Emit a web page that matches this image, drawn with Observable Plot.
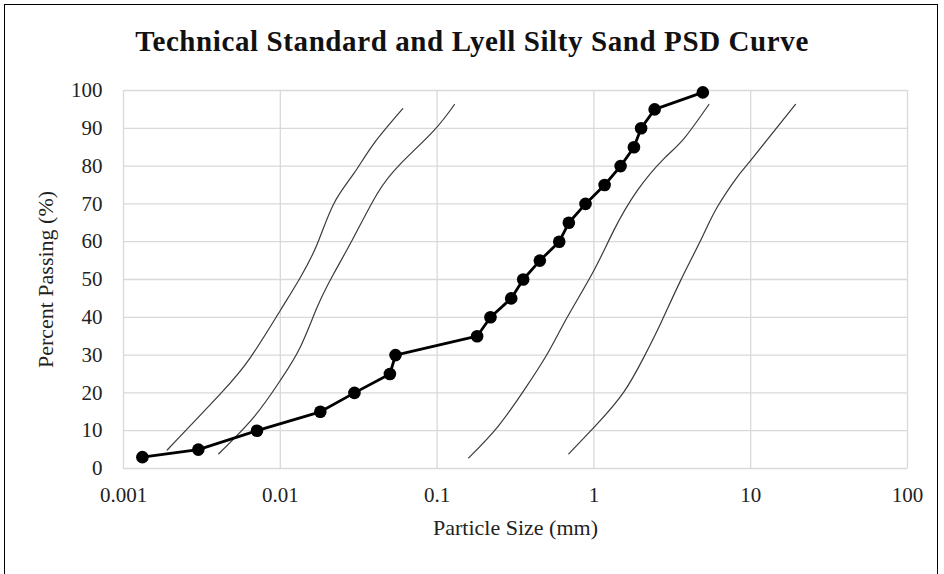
<!DOCTYPE html>
<html>
<head>
<meta charset="utf-8">
<script src="https://cdn.jsdelivr.net/npm/d3@7"></script>
<script src="https://cdn.jsdelivr.net/npm/@observablehq/plot@0.6"></script>
<style>
  html, body { margin: 0; padding: 0; background: #fff; }
  body { width: 944px; height: 574px; position: relative; overflow: hidden; font-family: "Liberation Serif", "Times New Roman", serif; }
  #frame { position: absolute; left: 4px; top: 4px; width: 934px; height: 580px; border: 1.5px solid #000; border-bottom: none; box-sizing: border-box; pointer-events: none; }
  #title { height: 76px; box-sizing: border-box; padding-top: 25px; text-align: center; font-weight: bold; font-size: 29px; color: #111; line-height: 32px; letter-spacing: 0.6px; }
  #chart svg { display: block; }
  #chart svg g[aria-label="x-axis label"] text, #chart svg g[aria-label="y-axis label"] text { font-size: 22px; }
</style>
</head>
<body>
<div id="frame"></div>
<div id="title">Technical Standard and Lyell Silty Sand PSD Curve</div>
<div id="chart"></div>
<script>
// Lyell silty sand measured PSD
const lyellSize    = [0.00132, 0.003, 0.0071, 0.018, 0.0297, 0.05, 0.0543, 0.18, 0.219, 0.297, 0.354, 0.452, 0.601, 0.692, 0.884, 1.17, 1.48, 1.80, 2.00, 2.44, 4.95];
const lyellPassing = [3, 5, 10, 15, 20, 25, 30, 35, 40, 45, 50, 55, 60, 65, 70, 75, 80, 85, 90, 95, 99.5];

// Technical standard envelope curves (thin lines)
const stdASize = [0.0019, 0.00416, 0.00646, 0.0100, 0.01345, 0.0172, 0.0219, 0.0294, 0.0394, 0.0604];
const stdAPass = [4.9, 19.8, 29.4, 41.8, 50.6, 59.4, 70.0, 78.0, 85.9, 95.2];

const stdBSize = [0.00405, 0.00678, 0.0100, 0.0134, 0.0172, 0.0219, 0.0294, 0.0415, 0.0584, 0.0953, 0.129];
const stdBPass = [3.9, 13.6, 23.3, 32.1, 42.7, 51.5, 61.2, 72.7, 80.6, 89.4, 96.3];

const stdCSize = [0.159, 0.242, 0.357, 0.504, 0.676, 1.00, 1.34, 1.89, 2.79, 3.74, 5.41];
const stdCPass = [2.8, 10.9, 20.6, 30.3, 40.0, 52.4, 63.0, 73.5, 81.9, 87.2, 96.3];

const stdDSize = [0.692, 1.05, 1.55, 2.08, 2.66, 3.57, 4.79, 6.11, 8.2, 10.0, 19.3];
const stdDPass = [3.9, 11.8, 20.2, 29.4, 38.3, 49.7, 60.3, 69.1, 77.1, 81.5, 96.3];

const xTicks = [0.001, 0.01, 0.1, 1, 10, 100];
const xTickLabels = ["0.001", "0.01", "0.1", "1", "10", "100"];
const yTicks = [0, 10, 20, 30, 40, 50, 60, 70, 80, 90, 100];

const toRows = (xs, ys, name) => xs.map((x, i) => ({size: x, pass: ys[i], series: name}));
const lyell = toRows(lyellSize, lyellPassing, "Lyell");
const stds = [
  toRows(stdASize, stdAPass, "A"),
  toRows(stdBSize, stdBPass, "B"),
  toRows(stdCSize, stdCPass, "C"),
  toRows(stdDSize, stdDPass, "D")
];

const chart = Plot.plot({
  width: 944,
  height: 498,
  marginTop: 14,
  marginBottom: 106,
  marginLeft: 123,
  marginRight: 37,
  style: { fontFamily: "'Liberation Serif', 'Times New Roman', serif", fontSize: "21px", color: "#222", background: "transparent" },
  x: { type: "log", domain: [0.001, 100] },
  y: { domain: [0, 100] },
  marks: [
    Plot.gridX(xTicks, { stroke: "#d9d9d9", strokeOpacity: 1, strokeWidth: 1.3 }),
    Plot.gridY(yTicks, { stroke: "#d9d9d9", strokeOpacity: 1, strokeWidth: 1.3 }),
    Plot.axisX({ ticks: xTicks, tickSize: 0, tickPadding: 19, tickFormat: (d) => xTickLabels[xTicks.indexOf(d)] ?? "", label: "Particle Size (mm)", labelAnchor: "center", labelArrow: "none", labelOffset: 66 }),
    Plot.axisY({ ticks: yTicks, tickSize: 0, tickPadding: 21, label: "Percent Passing (%)", labelAnchor: "center", labelArrow: "none", labelOffset: 86 }),
    ...stds.map(s => Plot.line(s, { x: "size", y: "pass", stroke: "#3a3a3a", strokeWidth: 1.2, curve: "natural" })),
    Plot.line(lyell, { x: "size", y: "pass", stroke: "#000", strokeWidth: 2.8 }),
    Plot.dot(lyell, { x: "size", y: "pass", r: 6.3, fill: "#000", stroke: "none" })
  ]
});
document.getElementById("chart").appendChild(chart);
</script>
</body>
</html>
